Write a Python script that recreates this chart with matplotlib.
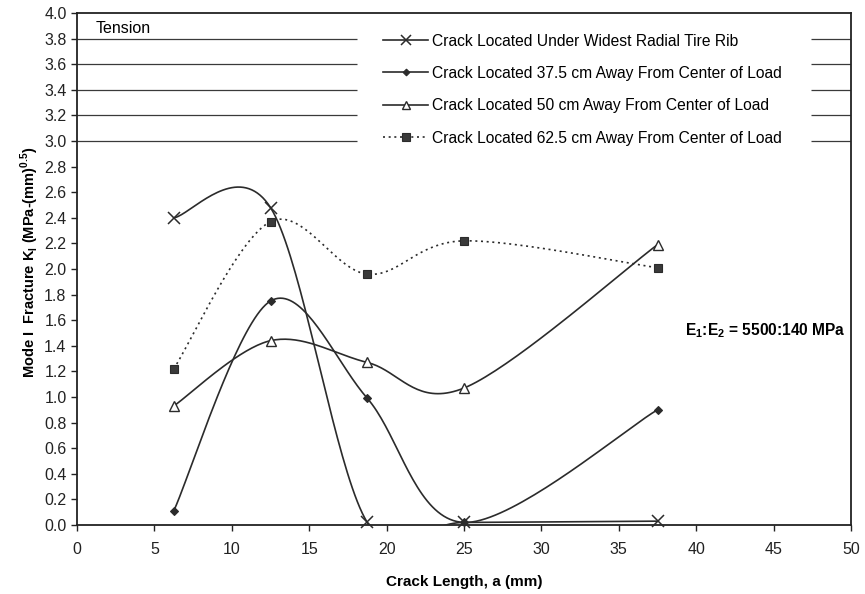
import numpy as np
import matplotlib
matplotlib.use('Agg')
import matplotlib.pyplot as plt
from matplotlib.lines import Line2D

plt.rcParams['font.family'] = ['Liberation Sans', 'DejaVu Sans']
plt.rcParams['mathtext.fontset'] = 'custom'
plt.rcParams['mathtext.rm'] = 'Liberation Sans'
plt.rcParams['mathtext.bf'] = 'Liberation Sans:bold'

# ── Data ─────────────────────────────────────────────────────────────────────
crack_len = [6.25, 12.5, 18.75, 25.0, 37.5]
k_rib     = [2.40, 2.48, 0.02, 0.02, 0.03]
k_375     = [0.11, 1.75, 0.99, 0.02, 0.90]
k_50      = [0.93, 1.44, 1.27, 1.07, 2.19]
k_625     = [1.22, 2.37, 1.96, 2.22, 2.01]

labels = ['Crack Located Under Widest Radial Tire Rib',
          'Crack Located 37.5 cm Away From Center of Load',
          'Crack Located 50 cm Away From Center of Load',
          'Crack Located 62.5 cm Away From Center of Load']

INK = '#2b2b2b'
W, H = 865, 594


def smooth(xs, ys, n=40):
    """Excel-style smoothed line: cubic Bezier segments through every point."""
    P = np.column_stack([xs, ys]).astype(float)
    m = len(P)
    out = []
    for i in range(m - 1):
        p0 = P[max(i - 1, 0)]
        p1, p2 = P[i], P[i + 1]
        p3 = P[min(i + 2, m - 1)]
        c1 = p1 + (p2 - p0) / 6.0
        c2 = p2 - (p3 - p1) / 6.0
        t = np.linspace(0, 1, n)[:, None]
        seg = ((1 - t) ** 3) * p1 + 3 * ((1 - t) ** 2) * t * c1 \
            + 3 * (1 - t) * t ** 2 * c2 + t ** 3 * p2
        out.append(seg if i == 0 else seg[1:])
    c = np.vstack(out)
    return c[:, 0], c[:, 1]


fig = plt.figure(figsize=(W / 100, H / 100), dpi=100)
# plot area in pixels: x 77..851, y 13..525
ax = fig.add_axes([77 / W, 1 - 525 / H, (851 - 77) / W, (525 - 13) / H])

styles = [
    dict(y=k_rib, ls='-',  marker='x', ms=9,   mfc=INK,       mew=1.1),
    dict(y=k_375, ls='-',  marker='D', ms=4,   mfc=INK,       mew=0.8),
    dict(y=k_50,  ls='-',  marker='^', ms=7,   mfc='white',   mew=1.0),
    dict(y=k_625, ls=':',  marker='s', ms=6,   mfc='#3a3a3a', mew=0.8),
]

handles = []
for st, lab in zip(styles, labels):
    sx, sy = smooth(crack_len, st['y'])
    line, = ax.plot(sx, sy, color=INK, lw=1.2, zorder=3)
    if st['ls'] == ':':
        line.set_dashes((1.2, 2.2))
    ax.plot(crack_len, st['y'], ls='none', marker=st['marker'], ms=st['ms'],
            mfc=st['mfc'], mec=INK, mew=st['mew'], zorder=4, clip_on=False)
    h = Line2D([], [], color=INK, lw=1.2, marker=st['marker'],
               ms=st['ms'] * 0.85, mfc=st['mfc'], mec=INK, mew=st['mew'])
    if st['ls'] == ':':
        h.set_dashes((1.2, 2.2))
    handles.append(h)

# partial gridlines left and right of the legend block
grid_y = [3.0, 3.2, 3.4, 3.6, 3.8]
ax.hlines(grid_y, 0, 18.1, color='#3a3a3a', lw=0.9, zorder=1)
ax.hlines(grid_y, 47.4, 50, color='#3a3a3a', lw=0.9, zorder=1)

yt = np.arange(0, 4.01, 0.2)
ax.set_xlim(0, 50)
ax.set_ylim(0, 4.0)
ax.set_xticks(np.arange(0, 51, 5))
ax.set_yticks(yt)
ax.set_yticklabels([f'{v:.1f}' for v in yt])
ax.tick_params(axis='both', labelsize=11.5, colors='#222222', length=4,
               width=1.0, direction='out')
ax.tick_params(axis='x', pad=8.5)
for sp in ax.spines.values():
    sp.set_linewidth(1.3)
    sp.set_color('#222222')

ax.set_xlabel('Crack Length, a (mm)', fontsize=11, fontweight='bold',
              labelpad=13)
ax.set_ylabel(r'Mode I  Fracture K$_\mathbf{I}$ (MPa-(mm)$^\mathbf{0.5}$)',
              fontsize=10.5, fontweight='bold')
ax.yaxis.set_label_coords((41 - 77) / (851 - 77), (525 - 262) / (525 - 13))

ax.text(1.2, 3.88, 'Tension', fontsize=11.5, va='center', ha='left')
ax.text(39.3, 1.52, r'E$_\mathbf{1}$:E$_\mathbf{2}$ = 5500:140 MPa',
        fontsize=11.2, fontweight='bold', va='center', ha='left')

ax.legend(handles, labels, loc='upper left',
          bbox_to_anchor=(383 / W, 1 - 33.5 / H),
          bbox_transform=fig.transFigure, frameon=False, fontsize=11.25,
          handlelength=2.9, handletextpad=0.25, labelspacing=1.11,
          borderpad=0, borderaxespad=0)

fig.savefig('out.png', dpi=100)
